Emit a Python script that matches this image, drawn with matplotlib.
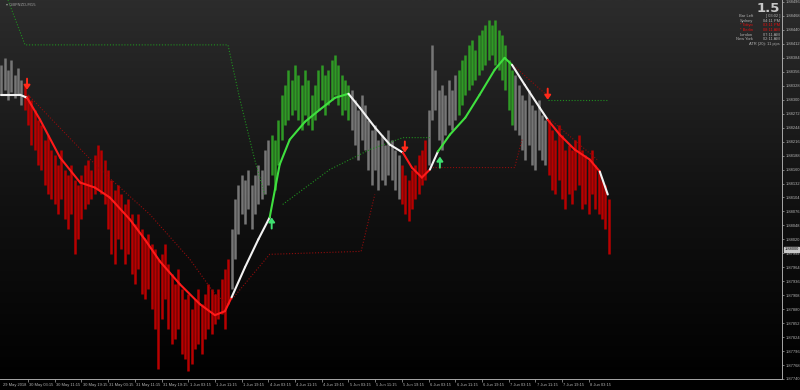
import numpy as np
import matplotlib
matplotlib.use("Agg")
import matplotlib.pyplot as plt
import matplotlib.transforms as mtransforms
from matplotlib.collections import LineCollection

symbol = "GBPNZD,M15"

# hourly bars (high / low)
bar_high = [
    1.88370, 1.88384, 1.88360, 1.88380, 1.88350, 1.88364, 1.88340, 1.88330,
    1.88310, 1.88300, 1.88280, 1.88260, 1.88250, 1.88220, 1.88230, 1.88200,
    1.88190, 1.88170, 1.88200, 1.88160, 1.88150, 1.88170, 1.88140, 1.88130,
    1.88150, 1.88170, 1.88180, 1.88160, 1.88190, 1.88210, 1.88200, 1.88180,
    1.88160, 1.88140, 1.88120, 1.88130, 1.88110, 1.88090, 1.88100, 1.88070,
    1.88050, 1.88070, 1.88040, 1.88020, 1.88030, 1.88010, 1.88000, 1.87980,
    1.87990, 1.88010, 1.87970, 1.87950, 1.87930, 1.87960, 1.87920, 1.87900,
    1.87910, 1.87880, 1.87900, 1.87920, 1.87890, 1.87910, 1.87930, 1.87920,
    1.87910, 1.87920, 1.87940, 1.87960, 1.87980, 1.88040, 1.88100, 1.88130,
    1.88150, 1.88140, 1.88160, 1.88130, 1.88150, 1.88170, 1.88160, 1.88200,
    1.88220, 1.88230, 1.88220, 1.88260, 1.88310, 1.88330, 1.88360, 1.88340,
    1.88370, 1.88350, 1.88330, 1.88360, 1.88340, 1.88310, 1.88330, 1.88360,
    1.88370, 1.88350, 1.88360, 1.88380, 1.88390, 1.88370, 1.88350, 1.88340,
    1.88330, 1.88320, 1.88300, 1.88280, 1.88310, 1.88290, 1.88260, 1.88240,
    1.88250, 1.88220, 1.88230, 1.88210, 1.88240, 1.88220, 1.88200, 1.88190,
    1.88170, 1.88150, 1.88140, 1.88160, 1.88170, 1.88190, 1.88200, 1.88220,
    1.88280, 1.88410, 1.88360, 1.88320, 1.88330, 1.88310, 1.88340, 1.88320,
    1.88350, 1.88360, 1.88380, 1.88390, 1.88410, 1.88420, 1.88400, 1.88430,
    1.88440, 1.88450, 1.88460, 1.88450, 1.88460, 1.88440, 1.88430, 1.88410,
    1.88380, 1.88360, 1.88350, 1.88330, 1.88310, 1.88300, 1.88320, 1.88290,
    1.88280, 1.88300, 1.88270, 1.88260, 1.88260, 1.88240, 1.88220, 1.88250,
    1.88230, 1.88200, 1.88210, 1.88200, 1.88220, 1.88230, 1.88200, 1.88190,
    1.88180, 1.88200, 1.88170, 1.88160, 1.88140, 1.88130, 1.88100,
]
bar_low = [
    1.88310, 1.88320, 1.88300, 1.88316, 1.88304, 1.88310, 1.88290, 1.88280,
    1.88250, 1.88210, 1.88200, 1.88170, 1.88160, 1.88130, 1.88110, 1.88100,
    1.88090, 1.88070, 1.88100, 1.88060, 1.88040, 1.88070, 1.87990, 1.88020,
    1.88060, 1.88080, 1.88090, 1.88100, 1.88110, 1.88120, 1.88110, 1.88090,
    1.88040, 1.87990, 1.87970, 1.88020, 1.88000, 1.87970, 1.87990, 1.87950,
    1.87930, 1.87960, 1.87910, 1.87900, 1.87920, 1.87880, 1.87840, 1.87760,
    1.87860, 1.87900, 1.87840, 1.87810, 1.87820, 1.87840, 1.87790, 1.87780,
    1.87756, 1.87770, 1.87800, 1.87810, 1.87790, 1.87820, 1.87840, 1.87830,
    1.87850, 1.87860, 1.87870, 1.87840, 1.87890, 1.87920, 1.87980, 1.88030,
    1.88070, 1.88050, 1.88080, 1.88040, 1.88070, 1.88090, 1.88100, 1.88110,
    1.88130, 1.88150, 1.88120, 1.88170, 1.88220, 1.88250, 1.88260, 1.88270,
    1.88280, 1.88260, 1.88240, 1.88270, 1.88250, 1.88240, 1.88260, 1.88280,
    1.88300, 1.88270, 1.88290, 1.88300, 1.88310, 1.88290, 1.88270, 1.88280,
    1.88260, 1.88240, 1.88210, 1.88180, 1.88220, 1.88200, 1.88160, 1.88130,
    1.88160, 1.88120, 1.88140, 1.88130, 1.88150, 1.88140, 1.88120, 1.88100,
    1.88090, 1.88070, 1.88056, 1.88080, 1.88100, 1.88110, 1.88130, 1.88140,
    1.88170, 1.88260, 1.88280, 1.88220, 1.88200, 1.88230, 1.88250, 1.88240,
    1.88260, 1.88270, 1.88290, 1.88310, 1.88320, 1.88330, 1.88340, 1.88350,
    1.88360, 1.88370, 1.88380, 1.88390, 1.88370, 1.88360, 1.88340, 1.88320,
    1.88280, 1.88250, 1.88240, 1.88230, 1.88200, 1.88180, 1.88210, 1.88170,
    1.88160, 1.88200, 1.88180, 1.88170, 1.88150, 1.88120, 1.88110, 1.88140,
    1.88100, 1.88080, 1.88110, 1.88090, 1.88120, 1.88130, 1.88080, 1.88090,
    1.88070, 1.88110, 1.88080, 1.88070, 1.88060, 1.88040, 1.87990,
]
# trend state runs: first bar of run, state (n = neutral, d = down, u = up)
trend_runs = [(0, "n"), (7, "d"), (69, "n"), (81, "u"), (105, "n"),
              (120, "d"), (128, "n"), (137, "u"), (154, "n"), (164, "d")]

# smoothed trend line
ma_x = [0, 5.6, 7.7, 11.6, 17.6, 23.6, 28, 32.5, 38.5, 43, 47.5, 53.5, 59.5,
        64, 67, 69, 73, 77, 80.4, 83.4, 86.4, 91, 95.4, 100, 104, 107.4, 112,
        116.4, 120.3, 123, 126, 128.4, 130.8, 134.4, 139, 143.3, 147.8, 150.8,
        153, 156.8, 161.3, 163.7, 167.3, 171.8, 176.3, 179.3, 181.7]
ma_y = [1.88310, 1.88310, 1.88304, 1.88260, 1.88184, 1.88134, 1.88124, 1.88104,
        1.88060, 1.88020, 1.87976, 1.87930, 1.87890, 1.87868, 1.87876, 1.87904,
        1.87964, 1.88020, 1.88064, 1.88170, 1.88220, 1.88256, 1.88280, 1.88304,
        1.88312, 1.88284, 1.88244, 1.88210, 1.88194, 1.88164, 1.88144, 1.88160,
        1.88196, 1.88230, 1.88264, 1.88310, 1.88360, 1.88384, 1.88370, 1.88330,
        1.88284, 1.88260, 1.88230, 1.88200, 1.88180, 1.88156, 1.88110]
ma_state = "nndddddddddddddnnnuuuuuunnnndddnuuuuuunnnddddd"

# trailing stop lines
green_stops = [
    ([2, 7.1, 67.9, 71.5, 75.9, 78.9],
     [1.88500, 1.88410, 1.88410, 1.88300, 1.88180, 1.88110]),
    ([84.3, 98.4, 110.4, 120.3, 128.4],
     [1.88090, 1.88160, 1.88200, 1.88224, 1.88224]),
    ([163.7, 181.7], [1.88300, 1.88300]),
]
red_stops = [
    ([8, 29.6, 44.5, 56.5, 64, 67.9],
     [1.88310, 1.88160, 1.88070, 1.87980, 1.87910, 1.87890]),
    ([69.1, 80.4, 107.8, 111.9],
     [1.87900, 1.87990, 1.87996, 1.88110]),
    ([128.4, 153.8, 156.0], [1.88164, 1.88164, 1.88220]),
    ([151.5, 163.3], [1.88380, 1.88310]),
    ([164.5, 178.5], [1.88260, 1.88180]),
]

sell_x = [7.7, 120.9, 163.7]
sell_y = [1.88320, 1.88194, 1.88300]
buy_x = [81.0, 131.4]
buy_y = [1.88064, 1.88186]

date_labels = ["29 May 2018", "30 May 03:15", "30 May 11:15", "30 May 19:15",
               "31 May 03:15", "31 May 11:15", "31 May 19:15", "1 Jun 03:15",
               "1 Jun 11:15", "1 Jun 19:15", "4 Jun 03:15", "4 Jun 11:15",
               "4 Jun 19:15", "5 Jun 03:15", "5 Jun 11:15", "5 Jun 19:15",
               "6 Jun 03:15", "6 Jun 11:15", "6 Jun 19:15", "7 Jun 03:15",
               "7 Jun 11:15", "7 Jun 19:15", "8 Jun 03:15"]
bars_per_label = 8
last_price = 1.88000

spread_text = "1.5"
clock_names = ["Bar Left", "Sydney", "* Tokyo", "* Berlin", "London", "New York"]
clock_values = ["[ 03:02 ]", "04:11 PM", "03:11 PM", "08:11 AM", "07:11 AM", "02:11 AM"]
clock_open = [False, False, True, True, False, False]
atr_text = "ATR (20): 11 pips"

state_bar = {"n": "#767676", "d": "#b80000", "u": "#2f9a25"}
state_line = {"n": "#f2f2f2", "d": "#ff1a1a", "u": "#3fe03f"}
txt_col = "#b4b4b4"
fs = 2.9
small_font = ["Liberation Sans", "DejaVu Sans"]

fig = plt.figure(figsize=(8, 3.9), dpi=100)

# background gradient
bg = fig.add_axes([0, 0, 1, 1])
bg.axis("off")
grad = np.linspace(0, 1, 256).reshape(-1, 1)
bg.imshow(grad, aspect="auto", cmap=matplotlib.colors.LinearSegmentedColormap.from_list(
    "bg", ["#2c2c2c", "#121212", "#000000"]), extent=[0, 1, 0, 1], origin="upper")
bg.set_xlim(0, 1)
bg.set_ylim(0, 1)

ax = fig.add_axes([0, 11 / 390, 782 / 800, 379 / 390])
ax.patch.set_alpha(0)
ax.set_xlim(-0.4, 233.9)
ax.set_ylim(1.885 - 0.00002 * 379, 1.885)

# bar colors from runs
n = len(bar_high)
states = []
for k, (start, st) in enumerate(trend_runs):
    end = trend_runs[k + 1][0] if k + 1 < len(trend_runs) else n
    states += [st] * (end - start)
idx = np.arange(n)
for st in "ndu":
    sel = [i for i in range(n) if states[i] == st]
    ax.vlines(idx[sel], np.array(bar_low)[sel], np.array(bar_high)[sel],
              color=state_bar[st], lw=1.8, zorder=2)

# trailing stops
for xs, ys in green_stops:
    ax.plot(xs, ys, color="#1f8f1f", lw=0.8, ls=(0, (1, 1.6)), zorder=3)
for xs, ys in red_stops:
    ax.plot(xs, ys, color="#8e0c0c", lw=0.8, ls=(0, (1, 1.6)), zorder=3)

# trend line
pts = np.column_stack([ma_x, ma_y])
segs = np.stack([pts[:-1], pts[1:]], axis=1)
lc = LineCollection(segs, colors=[state_line[s] for s in ma_state[:-1]],
                    linewidths=1.5, capstyle="round", zorder=4)
ax.add_collection(lc)

# arrows
arrow_style = "-|>,head_width=0.18,head_length=0.25"
for x, y in zip(sell_x, sell_y):
    ax.annotate("", xy=(x, y), xytext=(0, 8), textcoords="offset points",
                arrowprops=dict(arrowstyle=arrow_style, color="#ff2a1a", lw=1.4,
                                shrinkA=0, shrinkB=0), zorder=5)
for x, y in zip(buy_x, buy_y):
    ax.annotate("", xy=(x, y), xytext=(0, -8), textcoords="offset points",
                arrowprops=dict(arrowstyle=arrow_style, color="#3fe070", lw=1.4,
                                shrinkA=0, shrinkB=0), zorder=5)

# axes styling
for s in ["top", "left"]:
    ax.spines[s].set_visible(False)
for s in ["right", "bottom"]:
    ax.spines[s].set_color("#a8a8a8")
    ax.spines[s].set_linewidth(0.7)

ax.yaxis.tick_right()
yt = np.arange(1.87740, 1.88500, 0.00028)
ax.set_yticks(yt)
ax.set_yticklabels([f"{v:.5f}" for v in yt], family=small_font)
ax.tick_params(axis="y", colors="#a8a8a8", labelcolor=txt_col, labelsize=fs,
               length=1.5, width=0.5, pad=1)

xt = [bars_per_label * k for k in range(1, len(date_labels))]
ax.set_xticks(xt)
ax.set_xticklabels([])
ax.tick_params(axis="x", colors="#a8a8a8", length=2.5, width=0.5)
lab_tr = mtransforms.blended_transform_factory(ax.transData, ax.transAxes)
for k, lab in enumerate(date_labels):
    ax.text(bars_per_label * k + 0.4, -0.01, lab, transform=lab_tr, ha="left",
            va="top", fontsize=fs, color=txt_col, family=small_font)

# current price box
pr_tr = mtransforms.blended_transform_factory(ax.transAxes, ax.transData)
ax.text(1.003, last_price, f"{last_price:.5f}", transform=pr_tr, ha="left",
        va="center", fontsize=fs, color="#000000", family=small_font,
        bbox=dict(boxstyle="square,pad=0.1", fc="#c8c8c8", ec="#c8c8c8"))

# title
fig.text(6 / 800, 1 - 5 / 390, "▾ " + symbol, fontsize=fs, color="#9a9a9a",
         ha="left", va="center")

# info panel
fig.text(780 / 800, 1 - 8 / 390, spread_text, fontsize=9.5, fontweight="bold",
         color="#c8c8c8", ha="right", va="center")
for k, (nm, val, op) in enumerate(zip(clock_names, clock_values, clock_open)):
    yy = 1 - (16 + 4.7 * k) / 390
    c = "#e01010" if op else "#b0b0b0"
    fig.text(753 / 800, yy, nm, fontsize=fs, color=c, ha="right", va="center",
             family=small_font)
    fig.text(780 / 800, yy, val, fontsize=fs, color=c, ha="right", va="center",
             family=small_font)
fig.text(780 / 800, 1 - 44.5 / 390, atr_text, fontsize=fs, color="#b0b0b0",
         ha="right", va="center", family=small_font)

fig.savefig("out.png", dpi=100)
